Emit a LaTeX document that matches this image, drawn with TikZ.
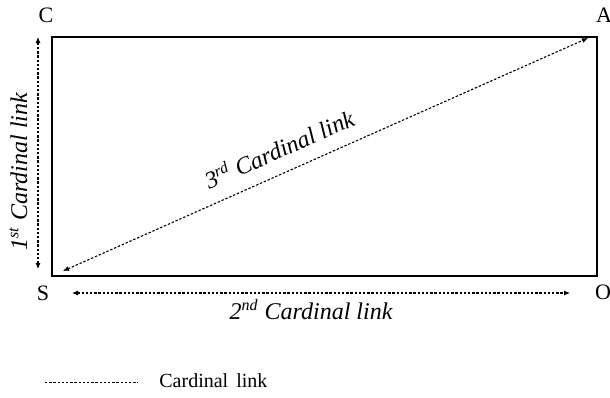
\documentclass[tikz,border=0pt]{standalone}
\usepackage{fontspec}
\setmainfont{Liberation Serif}[ItalicFont={Liberation Serif Italic}]
\usetikzlibrary{arrows.meta}
\tikzset{
  linkarrow/.style={{Latex[length=3pt,width=2.6pt]}-{Latex[length=3pt,width=2.6pt]}, line width=0.55pt, dash pattern=on 1.2pt off 0.9pt},
  keyline/.style={line width=0.45pt, dash pattern=on 1.2pt off 0.9pt},
  framebox/.style={line width=0.9pt},
  cornerlabel/.style={font=\fontsize{11}{13}\selectfont, inner sep=0pt},
  linklabel/.style={font=\fontsize{12}{14}\selectfont\itshape, inner sep=1pt},
  keylabel/.style={font=\fontsize{10}{12}\selectfont, inner sep=0pt, anchor=west}
}

\begin{document}
\begin{tikzpicture}[x=0.5pt, y=-0.5pt]
  \useasboundingbox (0,0) rectangle (610,397);
  % frame
  \coordinate (sw) at (52,276);
  \coordinate (ne) at (597,37);
  \draw[framebox] (sw) rectangle (ne);
  % corner letters
  \node[cornerlabel] (C) at (46,15) {C};
  \node[cornerlabel] (A) at (604,15) {A};
  \node[cornerlabel] (S) at (43,293) {S};
  \node[cornerlabel] (O) at (603,292) {O};
  % cardinal links
  \coordinate (l1top) at (38,37);
  \coordinate (l1bot) at (38,269);
  \coordinate (l2left) at (72,293);
  \coordinate (l2right) at (570,293);
  \coordinate (l3low) at (63,271);
  \coordinate (l3high) at (588,38);
  \draw[linkarrow] (l1bot) -- node[linklabel, sloped, above=4pt, pos=0.42] {1\textsuperscript{st} Cardinal link} (l1top);
  \draw[linkarrow] (l2left) -- node[linklabel, below=2pt, pos=0.48] {2\textsuperscript{nd} Cardinal link} (l2right);
  \draw[linkarrow] (l3low) -- node[linklabel, sloped, above=6pt, pos=0.43] {3\textsuperscript{rd} Cardinal link} (l3high);
  % legend
  \coordinate (k1) at (45,382);
  \coordinate (k2) at (138,382);
  \draw[keyline] (k1) -- (k2);
  \node[keylabel] (keytext) at (159,381) {Cardinal\hspace{4pt}link};
\end{tikzpicture}
\end{document}
